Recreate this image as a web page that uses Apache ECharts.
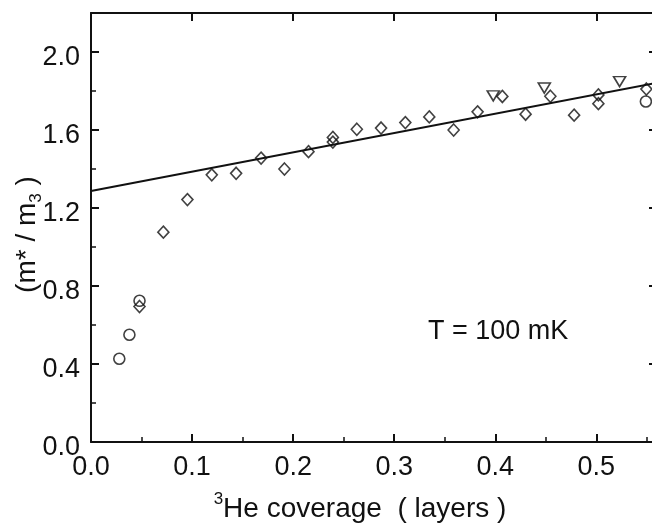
<!DOCTYPE html>
<html>
<head>
<meta charset="utf-8">
<script src="https://cdn.jsdelivr.net/npm/echarts@6/dist/echarts.min.js"></script>
<style>
html,body{margin:0;padding:0;background:#fff;}
#chart{width:652px;height:525px;}
</style>
</head>
<body>
<div id="chart"></div>
<script>
// ---- data ----
var circleData = [[0.028,0.427],[0.038,0.55],[0.048,0.724],[0.549,1.746]];
var diamondData = [[0.048,0.695],[0.0716,1.076],[0.0954,1.243],[0.1195,1.37],[0.1436,1.378],
  [0.1683,1.456],[0.1914,1.40],[0.2152,1.489],[0.2393,1.562],[0.2393,1.538],[0.263,1.604],
  [0.287,1.61],[0.311,1.638],[0.3347,1.667],[0.3588,1.60],[0.3825,1.693],[0.407,1.772],
  [0.430,1.681],[0.4545,1.773],[0.478,1.676],[0.502,1.78],[0.502,1.735],[0.5495,1.81]];
var triangleData = [[0.398,1.775],[0.4485,1.815],[0.523,1.848]];
var fitX = [0, 0.56];
var fitY = [1.287, 1.842];
var xTicks = [0.0,0.1,0.2,0.3,0.4,0.5];
var yTicks = [0.0,0.4,0.8,1.2,1.6,2.0];

var FONT = "'Liberation Sans', Arial, Helvetica, sans-serif";
var chart = echarts.init(document.getElementById('chart'), null, {renderer:'canvas'});

function baseAxis(extra){
  var a = {
    type:'value', min:0, gridIndex:0,
    axisLine:{show:true, onZero:false, lineStyle:{color:'#111', width:2}},
    axisTick:{show:true, inside:true, length:8, lineStyle:{color:'#111', width:2}},
    axisLabel:{show:false},
    splitLine:{show:false}
  };
  for (var k in extra) a[k] = extra[k];
  return a;
}

var option = {
  animation:false,
  backgroundColor:'#fff',
  grid:{left:91, top:13, right:-5, bottom:83, containLabel:false, outerBoundsMode:'none'},
  xAxis:[
    baseAxis({position:'bottom', max:0.56, interval:0.1,
      axisLabel:{show:true, margin:12, fontSize:27, color:'#111', fontFamily:FONT, showMaxLabel:false,
        formatter:function(v){ return xTicks.indexOf(Math.round(v*10)/10) >= 0 ? v.toFixed(1) : ''; }},
      name:'{sup|3}He coverage  ( layers )', nameLocation:'middle', nameGap:49, nameMoveOverlap:false,
      nameTextStyle:{fontSize:28, color:'#111', fontFamily:FONT, lineHeight:36, padding:[0,28,0,0],
        rich:{sup:{fontSize:17, lineHeight:17, verticalAlign:'top', fontFamily:FONT, color:'#111'}}}
    }),
    baseAxis({position:'bottom', max:0.56, interval:0.05,
      axisLine:{show:false, onZero:false},
      axisTick:{show:true, inside:true, length:5, lineStyle:{color:'#111', width:1.5}}}),
    baseAxis({position:'top', max:0.56, interval:0.1})
  ],
  yAxis:[
    baseAxis({position:'left', max:2.2, interval:0.4,
      axisLabel:{show:true, margin:11, fontSize:27, color:'#111', fontFamily:FONT, showMaxLabel:false,
        verticalAlign:'top', lineHeight:12,
        formatter:function(v){ return v.toFixed(1); }},
      name:'(m* / m{sub|3} )', nameLocation:'middle', nameGap:46, nameRotate:90, nameMoveOverlap:false,
      nameTextStyle:{fontSize:28, color:'#111', fontFamily:FONT, lineHeight:36, padding:[0,14,0,0],
        rich:{sub:{fontSize:17, lineHeight:17, verticalAlign:'bottom', fontFamily:FONT, color:'#111'}}}
    }),
    baseAxis({position:'left', max:2.2, interval:0.2,
      axisLine:{show:false, onZero:false},
      axisTick:{show:true, inside:true, length:5, lineStyle:{color:'#111', width:1.5}}}),
    baseAxis({position:'right', max:2.2, interval:0.4}),
    baseAxis({position:'right', max:2.2, interval:0.2,
      axisLine:{show:false, onZero:false},
      axisTick:{show:true, inside:true, length:5, lineStyle:{color:'#111', width:1.5}}})
  ],
  series:[
    {type:'line', xAxisIndex:0, yAxisIndex:0, data:fitX.map(function(x,i){return [x, fitY[i]];}),
      symbol:'none', clip:true, lineStyle:{color:'#111', width:2}, z:1},
    {type:'scatter', xAxisIndex:0, yAxisIndex:0, data:circleData, symbol:'circle', symbolSize:11,
      itemStyle:{color:'rgba(0,0,0,0)', borderColor:'#111', borderWidth:1.6}, z:3},
    {type:'scatter', xAxisIndex:0, yAxisIndex:0, data:diamondData, symbol:'diamond', symbolSize:[11,12],
      itemStyle:{color:'rgba(0,0,0,0)', borderColor:'#111', borderWidth:1.6}, z:3},
    {type:'scatter', xAxisIndex:0, yAxisIndex:0, data:triangleData, symbol:'triangle', symbolRotate:180, symbolSize:[12,10],
      itemStyle:{color:'rgba(0,0,0,0)', borderColor:'#111', borderWidth:1.6}, z:3}
  ],
  graphic:[
    {type:'text', left:428, top:318, style:{text:'T = 100 mK', font:'27px ' + FONT, fill:'#111'}}
  ]
};
chart.setOption(option);
</script>
</body>
</html>
